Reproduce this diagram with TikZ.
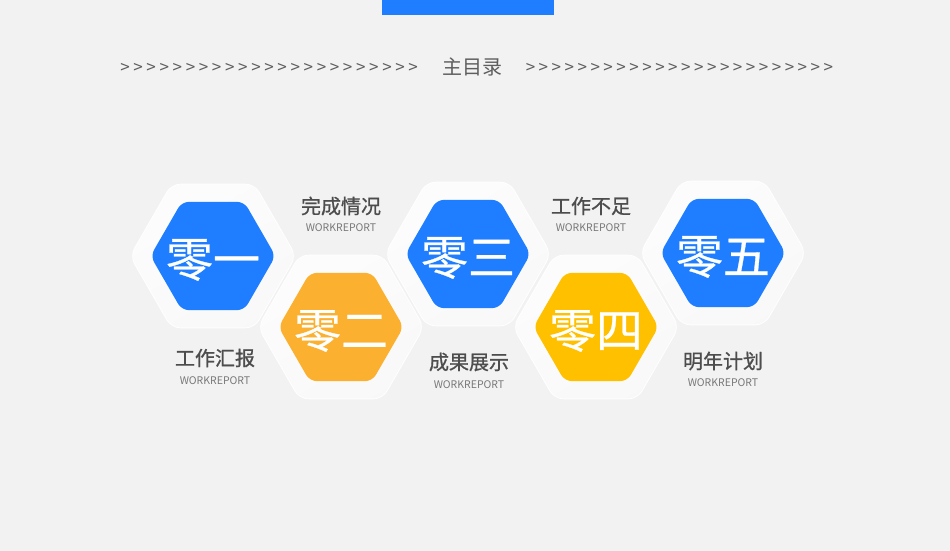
\documentclass[tikz,border=0pt]{standalone}
\usepackage{fontspec}
\setmainfont{Noto Sans CJK SC}
\newfontfamily\medfont[FakeBold=0.9]{Noto Sans CJK SC}
\newfontfamily\numfont[FakeBold=0.6]{Noto Sans CJK SC}
\usetikzlibrary{positioning}
\definecolor{bg}{HTML}{F2F2F2}
\definecolor{hblue}{HTML}{1F7EFF}
\definecolor{horange}{HTML}{FBB12F}
\definecolor{hyellow}{HTML}{FFC000}
\definecolor{tgray}{HTML}{4D4D4D}
\definecolor{sgray}{HTML}{787878}
\definecolor{cgray}{HTML}{5E5E5E}
\tikzset{
  outerhex/.style={top color=white!80!bg, bottom color=white!50!bg, shading angle=30, draw=white, line width=0.8pt, rounded corners=9pt},
  innerhex/.style={rounded corners=7pt},
  bignum/.style={text=white, inner sep=0pt, font=\numfont\fontsize{47}{50}\selectfont},
  htitle/.style={text=tgray, inner sep=0pt, font=\medfont\fontsize{20}{22}\selectfont},
  hsub/.style={text=sgray, inner sep=0pt, font=\fontsize{10.5}{12}\selectfont},
  chev/.style={text=cgray, inner sep=0pt, font=\fontsize{17}{18}\selectfont},
}
\begin{document}
\begin{tikzpicture}[x=1pt, y=-1pt]
  \fill[bg] (0,0) rectangle (950,551);
  \useasboundingbox (0,0) rectangle (950,551);
  % top bar
  \fill[hblue] (382,0) rectangle (554,15);
  % heading
  \node[text=cgray, inner sep=0pt, font=\fontsize{20}{22}\selectfont] (head) at (472,67) {主目录};
  \foreach \i in {0,...,22}
    \node[chev] (la\i) at (125+13.1*\i,68) {>};
  \foreach \i in {0,...,23}
    \node[chev] (lb\i) at (530.5+12.95*\i,68) {>};
  % hexagons
  \foreach \cx/\cy/\col/\txt [count=\n] in {213/256/hblue/零一, 341/327/horange/零二, 468/254/hblue/零三, 596/327/hyellow/零四, 723/253/hblue/零五}
  {
    \path[outerhex] (\cx,\cy) ++(0:83) -- ++(120:83) -- ++(180:83) -- ++(240:83) -- ++(300:83) -- ++(0:83) -- cycle;
    \fill[\col, innerhex] (\cx,\cy) ++(0:62.5) -- ++(120:62.5) -- ++(180:62.5) -- ++(240:62.5) -- ++(300:62.5) -- ++(0:62.5) -- cycle;
    \node[bignum] (h\n) at (\cx,\cy+4) {\txt};
  }
  % labels
  \node[htitle] (t1) at (341,206) {完成情况};
  \node[hsub, below=8pt of t1] (s1) {WORKREPORT};
  \node[htitle] (t2) at (591,206) {工作不足};
  \node[hsub, below=8pt of t2] (s2) {WORKREPORT};
  \node[htitle] (t3) at (215,358) {工作汇报};
  \node[hsub, below=9pt of t3] (s3) {WORKREPORT};
  \node[htitle] (t4) at (469,362) {成果展示};
  \node[hsub, below=9pt of t4] (s4) {WORKREPORT};
  \node[htitle] (t5) at (723,361) {明年计划};
  \node[hsub, below=8pt of t5] (s5) {WORKREPORT};
\end{tikzpicture}
\end{document}
